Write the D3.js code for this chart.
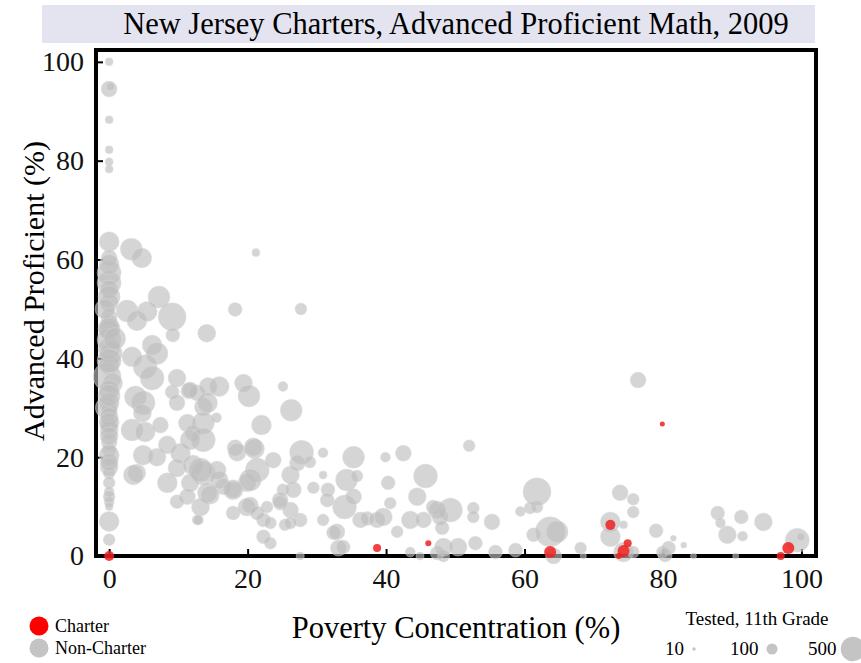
<!DOCTYPE html>
<html>
<head>
<meta charset="utf-8">
<script src="https://cdn.jsdelivr.net/npm/d3@7"></script>
<style>
  body { margin: 0; background: #fff; }
  svg { display: block; font-family: "Liberation Serif", "DejaVu Serif", serif; }
  .tick text { font-size: 28px; fill: #111; }
  .tick line { stroke: #000; stroke-width: 2; }
</style>
</head>
<body>
<svg id="chart" width="861" height="663"></svg>
<script>
// data: poverty %, advanced proficient %, number tested, charter flag
const pov = [
  0, 0, 0.2, 0, 0, 0, 0,
  0, 0, 0, 0, 0, 0, 0, 0, 0, 0, 0.3, 0, -0.3, 0.5, 0, -0.4, 0, 0, 0, 0, 0, 0, 0, 0, 0, 0, 0, 0, 0, 0, 0, 0, 0,
  0, 0, 0, 0, 0, 0, 0, 0, 0, 0.8, -0.6,
  3.2, 4.7, 7.2, 2.6, 4, 5.5, 9.1, 9.2, 14.1, 6.2, 3.3, 5.2, 6.9, 6.2, 9.8, 9.1, 11.5, 12.7, 14.3, 15.9,
  19.4, 20.2, 25.1, 26.3, 22, 3.8, 4.9, 4.8, 3.3, 5.2, 7.4, 9.8, 13.6, 14.2, 13.6, 15.5, 11.3, 12.1, 13.6,
  18.2, 20.8, 18.2, 27.7, 21.2,
  4.9, 4, 6.9, 8.4, 8.4, 10.3, 9.8, 11.7, 12.1, 13.6, 11.7, 11.3, 9.8, 12.7, 15.6, 16.5, 14.6, 18.5, 21,
  21.4, 19.9, 17.9, 20.4, 22.3, 23.3, 22.3, 23.7, 26.2, 27.8, 29, 25.1, 26.6, 24.7, 26.2, 27.6, 25.4, 27.6,
  29.5, 30.9, 30.9, 31.6, 31.5, 30.9, 32.4, 33.1, 33.8, 34, 35.3, 34.3, 35.8, 35.3, 36.3, 37.3, 38.7, 39.6,
  39.9, 40.3, 40.6, 42.5, 41.6, 43.5, 43.5, 44.5, 45.4, 45.7, 44.9, 46.8, 47.8, 47.4, 48.3,
  27.2, 17.9, 19.9, 22.8, 24.7, 21.4, 23.3, 26.2, 15.9, 13.2, 14.2, 13.2, 12.9, 17.9, 20.4, 11.7, 32.9, 3.5,
  52, 49.3, 47.4, 48.1, 48.3, 50.4, 52.6, 52.6, 52.9, 55.3, 55.8, 58.7, 59.4, 60.8, 61.8, 61.8, 61.3, 63.7,
  64.7, 64.2, 68.1, 68.5, 72.4, 72.4, 73.8, 75.7, 75.7, 74.3, 74.3, 75.7, 76.4, 79, 79.9, 80.8, 80.3, 81.5,
  83, 84.4, 87.9, 88.3, 89.3, 91.3, 91.5, 90.5, 94.5, 99.4, 99.9,
  0, 38.7, 46.1, 63.7, 72.4, 74.9, 74.3, 73.6, 79.9, 98.1, 97
];
const adv = [
  100, 94.5, 95, 88.3, 82.2, 79.8, 78.3,
  63.6, 60.3, 57.3, 55.3, 54, 51.2, 48.4, 47, 45.7, 43.7, 41, 38.7, 36.3, 35, 33.6, 30, 31, 29.5, 28.2, 26.5, 25.5, 23.1, 21.5, 20.4, 18, 16.8, 14.8, 13, 10.9, 10, 7, 3.3, 42,
  59, 52.5, 46, 39.5, 32.5, 27, 24.3, 19, 12, 44, 50,
  62.1, 60.3, 52.4, 49.6, 47.6, 49.5, 48.4, 44.7, 45.1, 42.7, 40.3, 38.3, 41, 36, 36, 33.2, 33.4, 33, 34.3, 34.3,
  35, 32.4, 34.3, 29.5, 26.5, 32.2, 31, 28.9, 25.5, 25.1, 26.5, 31, 30.2, 31, 26.9, 28, 26.9, 24.9, 23.5,
  21.9, 22.1, 49.9, 50, 61.4,
  20.4, 16.8, 20, 22.5, 14.8, 20.8, 17.8, 23.5, 18.4, 16.8, 14.8, 12, 11, 7.3, 17.4, 14, 12.3, 21, 21.7,
  17.4, 14.8, 13.4, 10.3, 7.3, 2.6, 3.9, 19.4, 16.4, 21, 19, 13.4, 13.4, 10.7, 9.3, 7.3, 6.3, 0,
  13.8, 20.9, 16.4, 13.4, 11.3, 7.3, 4.7, 1.6, 1.8, 9.9, 20, 15.4, 16.2, 12, 7.3, 7.6, 7.3, 7.9,
  20, 14.8, 10.7, 20.8, 4.9, 0.8, 7.3, 12, 7.3, 16.2, 0, 9.9, 7.9, 0.6, 0,
  18.8, 8.7, 9.9, 9.9, 11.3, 8.7, 6.7, 6.7, 15.4, 17.4, 12.8, 9.9, 7.3, 13.4, 15.4, 33.6, 4.9, 16.4,
  22.3, 9.3, 9.3, 5.7, 1.8, 1.8, 9.7, 7.9, 2.6, 6.9, 0.8, 1.2, 9, 9.7, 9.9, 13, 4.3, 4.9,
  4.9, 0, 1.6, 0, 6.9, 3.9, 12.8, 11.5, 8.9, 6.3, 0.8, 0.8, 35.6, 5.1, 0.8, 1.6, 0.2, 3.6,
  2.2, 0, 8.7, 6.7, 4.3, 7.9, 4, 0, 6.9, 3.2, 3.9,
  0, 1.6, 2.6, 0.8, 6.3, 2.6, 1, 0, 26.7, 1.6, 0
];
const tested = [
  53, 212, 53, 53, 53, 53, 53,
  331, 212, 476, 476, 268, 268, 212, 268, 331, 476, 400, 331, 648, 331, 331, 400, 331, 212, 268, 212, 268, 212, 162, 331, 268, 119, 119, 83, 83, 53, 331, 119, 400,
  331, 400, 400, 476, 400, 331, 268, 268, 119, 400, 331,
  400, 331, 400, 400, 331, 331, 648, 162, 268, 331, 331, 476, 400, 476, 268, 162, 212, 212, 268, 331,
  268, 400, 83, 400, 331, 400, 476, 268, 400, 331, 212, 212, 268, 331, 400, 83, 268, 212, 476,
  212, 268, 162, 119, 53,
  331, 268, 268, 268, 331, 331, 268, 331, 331, 476, 268, 212, 162, 83, 268, 212, 268, 268, 331,
  476, 268, 212, 212, 162, 119, 162, 212, 268, 476, 119, 119, 212, 162, 212, 162, 119, 53,
  119, 83, 53, 162, 162, 119, 162, 212, 162, 476, 400, 400, 119, 212, 212, 162, 212, 268,
  83, 162, 119, 212, 119, 83, 268, 268, 212, 476, 53, 162, 212, 162, 119,
  212, 162, 268, 119, 212, 162, 119, 119, 268, 476, 331, 268, 83, 331, 400, 212, 212, 331,
  119, 476, 268, 162, 268, 268, 119, 119, 162, 212, 162, 162, 83, 119, 119, 648, 162, 744,
  400, 212, 119, 30, 331, 331, 212, 119, 119, 53, 331, 119, 212, 162, 119, 162, 162, 30,
  30, 30, 162, 83, 268, 162, 83, 30, 268, 476, 53,
  83, 53, 30, 119, 83, 53, 119, 30, 21, 119, 53
];
const charter = pov.map((d, i) => i >= pov.length - 11);

const xTicks = [0, 20, 40, 60, 80, 100];
const yTicks = [0, 20, 40, 60, 80, 100];
const legendGroups = ['Charter', 'Non-Charter'];
const legendSizes = [10, 100, 500];

const colors = { charter: '#ee2020', other: '#bdbdbd' };

// dimension stuff
const frame = { left: 96, right: 816, top: 50, bottom: 556 };

const points = pov.map((d, i) => ({
  pov: d, adv: adv[i], tested: tested[i], charter: charter[i]
}));

// scales
const scaleX = d3.scaleLinear().domain([-1.9, 102.1]).range([frame.left, frame.right]);
const scaleY = d3.scaleLinear().domain([0, 102.4]).range([frame.bottom, frame.top]);
const scaleR = d3.scaleSqrt().domain([0, 500]).range([0, 12.3]);

const $svg = d3.select('#chart');

// title band
$svg.append('rect')
  .attr('x', 42).attr('y', 5)
  .attr('width', 773).attr('height', 38)
  .attr('fill', '#e4e4f0');

$svg.append('text')
  .attr('x', (frame.left + frame.right) / 2)
  .attr('y', 34)
  .attr('text-anchor', 'middle')
  .style('font-size', '30.5px')
  .text('New Jersey Charters, Advanced Proficient Math, 2009');

// axes (drop d3's sans-serif defaults so the page font is used)
$svg.append('g')
  .attr('transform', `translate(${frame.left},0)`)
  .call(d3.axisLeft(scaleY).tickValues(yTicks).tickSize(-7).tickPadding(12))
  .call(g => g.select('.domain').remove())
  .attr('font-family', null).attr('font-size', null);

$svg.append('g')
  .attr('transform', `translate(0,${frame.bottom})`)
  .call(d3.axisBottom(scaleX).tickValues(xTicks).tickSize(-7).tickPadding(12))
  .call(g => g.select('.domain').remove())
  .attr('font-family', null).attr('font-size', null);

$svg.append('rect')
  .attr('x', frame.left).attr('y', frame.top)
  .attr('width', frame.right - frame.left)
  .attr('height', frame.bottom - frame.top)
  .attr('fill', 'none')
  .attr('stroke', '#000')
  .attr('stroke-width', 4);

// axis titles
$svg.append('text')
  .attr('transform', `translate(44, ${(frame.top + frame.bottom) / 2 - 12}) rotate(-90)`)
  .attr('text-anchor', 'middle')
  .style('font-size', '30px')
  .text('Advanced Proficient (%)');

$svg.append('text')
  .attr('x', (frame.left + frame.right) / 2)
  .attr('y', 638)
  .attr('text-anchor', 'middle')
  .style('font-size', '30.5px')
  .text('Poverty Concentration (%)');

// bubbles, charters on top
const $vis = $svg.append('g');
$vis.selectAll('circle')
  .data(points.filter(d => !d.charter).concat(points.filter(d => d.charter)))
  .join('circle')
  .attr('cx', d => scaleX(d.pov))
  .attr('cy', d => scaleY(d.adv))
  .attr('r', d => scaleR(d.tested))
  .attr('fill', d => d.charter ? colors.charter : colors.other)
  .attr('fill-opacity', d => d.charter ? 0.85 : 0.64)
  .attr('stroke', d => d.charter ? 'none' : '#e2e2e2')
  .attr('stroke-opacity', 0.5)
  .attr('stroke-width', 0.8);

// legend: groups
const $leg = $svg.append('g').attr('transform', 'translate(39,626)');
legendGroups.forEach((name, i) => {
  $leg.append('circle')
    .attr('cy', i * 22)
    .attr('r', 9.5)
    .attr('fill', i === 0 ? '#ff0000' : '#c4c4c4');
  $leg.append('text')
    .attr('x', 16)
    .attr('y', i * 22 + 6)
    .style('font-size', '18px')
    .text(name);
});

// legend: sizes
$svg.append('text')
  .attr('x', 757).attr('y', 625)
  .attr('text-anchor', 'middle')
  .style('font-size', '19px')
  .text('Tested, 11th Grade');

const sizeX = [665, 730, 808];
const dotX = [694, 772, 853];
legendSizes.forEach((n, i) => {
  $svg.append('text')
    .attr('x', sizeX[i]).attr('y', 655)
    .style('font-size', '19px')
    .text(n);
  $svg.append('circle')
    .attr('cx', dotX[i]).attr('cy', 649)
    .attr('r', scaleR(n))
    .attr('fill', '#c4c4c4');
});
</script>
</body>
</html>
